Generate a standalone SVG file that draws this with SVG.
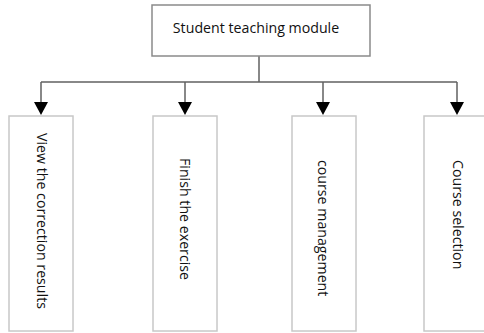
<svg xmlns="http://www.w3.org/2000/svg" width="484" height="333" viewBox="0 0 484 333">
<style>
.box{fill:#fff;stroke:#c8c8c8;stroke-width:1.5}
.top{fill:#fff;stroke:#8a8a8a;stroke-width:1.5}
.lbl{font-family:"Open Sans","Noto Sans",sans-serif;font-size:14.2px;fill:#111}
.ln{fill:none;stroke:#606060;stroke-width:1.5}
</style>
<rect width="484" height="333" fill="#fff"/>
<g id="connectors">
<path class="ln" d="M259,56 V82"/>
<path class="ln" d="M41,82 H457"/>
<path class="ln" d="M41,82 V102"/>
<path class="ln" d="M185,82 V102"/>
<path class="ln" d="M323,82 V102"/>
<path class="ln" d="M457,82 V102"/>
<path d="M34,102 H48 L41,115 Z" fill="#000"/>
<path d="M178,102 H192 L185,115 Z" fill="#000"/>
<path d="M316,102 H330 L323,115 Z" fill="#000"/>
<path d="M450,102 H464 L457,115 Z" fill="#000"/>
</g>
<g id="root">
<rect class="top" x="152" y="5" width="218" height="51"/>
<text class="lbl" x="256" y="33" text-anchor="middle">Student teaching module</text>
</g>
<g id="n1">
<rect class="box" x="9" y="116" width="64" height="215"/>
<text class="lbl" transform="translate(37,133) rotate(90)">View the correction results</text>
</g>
<g id="n2">
<rect class="box" x="153" y="116" width="64" height="215"/>
<text class="lbl" transform="translate(180,158) rotate(90)">Finish the exercise</text>
</g>
<g id="n3">
<rect class="box" x="292" y="116" width="64" height="215"/>
<text class="lbl" transform="translate(318,160) rotate(90)">course management</text>
</g>
<g id="n4">
<rect class="box" x="424" y="116" width="70" height="215"/>
<text class="lbl" transform="translate(453,160) rotate(90)">Course selection</text>
</g>
</svg>
